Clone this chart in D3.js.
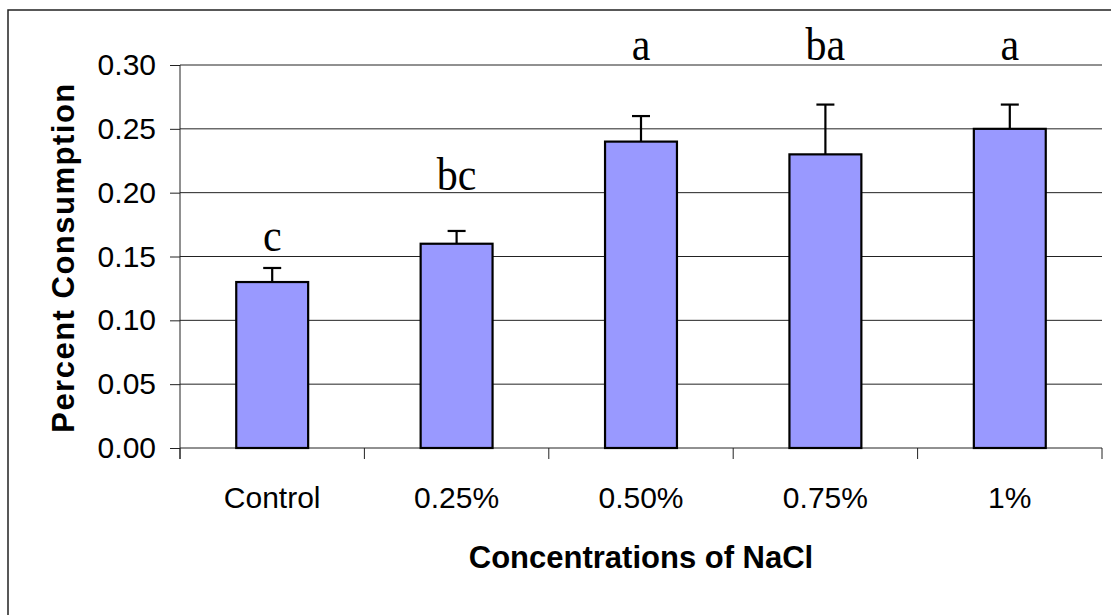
<!DOCTYPE html>
<html>
<head>
<meta charset="utf-8">
<script src="https://cdn.jsdelivr.net/npm/d3@7"></script>
<style>
  body { margin: 0; background: #fff; }
  svg { display: block; }
</style>
</head>
<body>
<div id="chart"></div>
<script>
// data
const groups = ["Control", "0.25%", "0.50%", "0.75%", "1%"];
const means = [0.13, 0.16, 0.24, 0.23, 0.25];
const errs = [0.011, 0.010, 0.020, 0.039, 0.019];
const letters = ["c", "bc", "a", "ba", "a"];
const letterAt = [0.154, 0.202, 0.304, 0.304, 0.304]; // baseline, in data units
const yTicks = [0, 0.05, 0.10, 0.15, 0.20, 0.25, 0.30];

const width = 1111, height = 615;
const margin = {top: 65, right: 9, bottom: 167, left: 180};

const svg = d3.select("#chart").append("svg")
  .attr("width", width)
  .attr("height", height);

// outer frame (only left & top visible)
svg.append("rect")
  .attr("x", 8).attr("y", 10)
  .attr("width", width + 20).attr("height", height + 20)
  .attr("fill", "none")
  .attr("stroke", "#222")
  .attr("stroke-width", 1.5);

const x = d3.scaleBand()
  .domain(groups)
  .range([margin.left, width - margin.right])
  .paddingInner(0.61)
  .paddingOuter(0.305);

const y = d3.scaleLinear()
  .domain([0, 0.30])
  .range([height - margin.bottom, margin.top]);

// gridlines
svg.append("g")
  .selectAll("line")
  .data(yTicks)
  .join("line")
    .attr("x1", margin.left)
    .attr("x2", width - margin.right)
    .attr("y1", d => y(d))
    .attr("y2", d => y(d))
    .attr("stroke", "#222")
    .attr("stroke-width", 1);

// y axis
const yAxis = svg.append("g")
  .attr("transform", `translate(${margin.left},0)`)
  .call(d3.axisLeft(y).tickValues(yTicks).tickFormat(d3.format(".2f")).tickSize(10).tickPadding(14));
yAxis.select(".domain").remove();
yAxis.append("line")
  .attr("x1", 0).attr("x2", 0)
  .attr("y1", y(0.30)).attr("y2", y(0) + 11)
  .attr("stroke", "#222");
yAxis.selectAll("line").attr("stroke", "#222");
yAxis.selectAll("text")
  .attr("font-family", "'Liberation Sans', Arial, sans-serif")
  .attr("font-size", 30)
  .attr("fill", "#000");

// x axis: ticks at category boundaries
const bounds = d3.range(groups.length + 1).map(i => margin.left + i * (width - margin.right - margin.left) / groups.length);
svg.append("g")
  .selectAll("line")
  .data(bounds)
  .join("line")
    .attr("x1", d => d).attr("x2", d => d)
    .attr("y1", y(0)).attr("y2", y(0) + 11)
    .attr("stroke", "#222");

svg.append("g")
  .selectAll("text")
  .data(groups)
  .join("text")
    .attr("x", d => x(d) + x.bandwidth() / 2)
    .attr("y", y(0) + 60)
    .attr("text-anchor", "middle")
    .attr("font-family", "'Liberation Sans', Arial, sans-serif")
    .attr("font-size", 30)
    .text(d => d);

// bars
svg.append("g")
  .selectAll("rect")
  .data(groups)
  .join("rect")
    .attr("x", d => x(d))
    .attr("y", (d, i) => y(means[i]))
    .attr("width", x.bandwidth())
    .attr("height", (d, i) => y(0) - y(means[i]))
    .attr("fill", "#9999FF")
    .attr("stroke", "#000")
    .attr("stroke-width", 2.2);

// error bars (upper only)
const eb = svg.append("g").attr("stroke", "#000").attr("stroke-width", 2.2);
groups.forEach((g, i) => {
  const cx = x(g) + x.bandwidth() / 2;
  eb.append("line")
    .attr("x1", cx).attr("x2", cx)
    .attr("y1", y(means[i])).attr("y2", y(means[i] + errs[i]));
  eb.append("line")
    .attr("x1", cx - 9).attr("x2", cx + 9)
    .attr("y1", y(means[i] + errs[i])).attr("y2", y(means[i] + errs[i]));
});

// significance letters (slightly tall, like the original)
svg.append("g")
  .selectAll("text")
  .data(letters)
  .join("text")
    .attr("transform", (d, i) => `translate(${x(groups[i]) + x.bandwidth() / 2},${y(letterAt[i])}) scale(1,1.1)`)
    .attr("text-anchor", "middle")
    .attr("font-family", "'Liberation Serif', 'Times New Roman', serif")
    .attr("font-size", 42)
    .text(d => d);

// axis titles
svg.append("text")
  .attr("x", (margin.left + width - margin.right) / 2)
  .attr("y", 568)
  .attr("text-anchor", "middle")
  .attr("font-family", "'Liberation Sans', Arial, sans-serif")
  .attr("font-weight", "bold")
  .attr("font-size", 31)
  .text("Concentrations of NaCl");

svg.append("text")
  .attr("transform", `translate(74,${(82 + 433) / 2}) rotate(-90)`)
  .attr("text-anchor", "middle")
  .attr("font-family", "'Liberation Sans', Arial, sans-serif")
  .attr("font-weight", "bold")
  .attr("font-size", 31)
  .attr("letter-spacing", 1.5)
  .text("Percent Consumption");
</script>
</body>
</html>
